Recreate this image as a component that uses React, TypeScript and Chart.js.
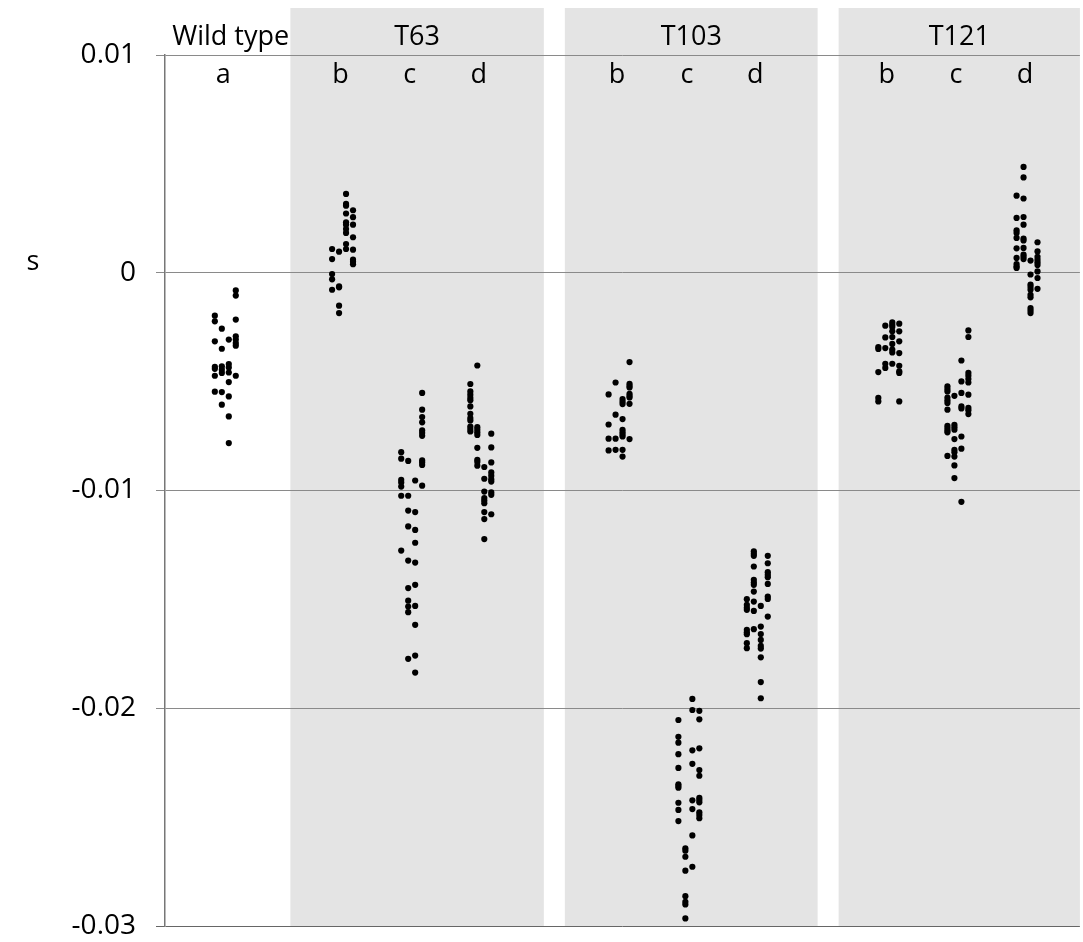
import React, { useEffect, useRef } from "react";
import { Chart, registerables } from "chart.js";

Chart.register(...registerables);

// Group centres on the x axis (one unit ≈ one sub-group spacing)
const groupCenters = [0.89, 2.62, 3.64, 4.66, 6.7, 7.73, 8.74, 10.68, 11.7, 12.72];
const subLabels = ["a", "b", "c", "d", "b", "c", "d", "b", "c", "d"];
const columnStep = 0.103; // spacing of the four dot columns inside a group

// Panels (strains)
const panelNames = ["Wild type", "T63", "T103", "T121"];
const panelStarts = [0, 1.85, 5.9, 9.94];
const panelEnds = [1.85, 5.59, 9.63, 13.5];
const panelShaded = [false, true, true, true];

// y ticks
const yTicks = [0.01, 0, -0.01, -0.02, -0.03];

// Values of s (in units of 0.001), each group split into its four dot columns
const wildA = [
  [-1.97, -2.23, -3.15, -4.32, -4.41, -4.73, -5.46],
  [-2.57, -3.49, -4.3, -4.45, -4.6, -5.48, -6.06],
  [-3.07, -4.19, -4.35, -4.58, -5.02, -5.68, -6.6, -7.82],
  [-0.81, -1.05, -2.15, -2.92, -3.07, -3.23, -3.35, -4.73],
];
const t63B = [
  [1.09, 0.63, -0.06, -0.3, -0.78],
  [0.97, -0.63, -0.67, -1.51, -1.85],
  [3.62, 3.16, 3.08, 2.72, 2.32, 2.21, 2.01, 1.83, 1.32, 1.09],
  [2.87, 2.55, 2.21, 1.63, 1.06, 0.6, 0.5, 0.39],
];
const t63C = [
  [-8.24, -8.54, -9.51, -9.63, -9.82, -10.24, -12.76],
  [-8.64, -10.24, -10.92, -11.65, -13.22, -14.48, -15.06, -15.33, -15.59, -17.73],
  [-9.54, -10.99, -11.81, -12.4, -13.31, -14.33, -15.3, -16.17, -17.58, -18.36],
  [-5.52, -6.29, -6.63, -6.87, -7.24, -7.36, -7.49, -8.62, -8.71, -8.83, -9.78],
];
const t63D = [
  [-5.11, -5.45, -5.6, -5.75, -5.86, -6.14, -6.48, -6.67, -6.78, -7.06, -7.18, -7.29],
  [-4.26, -7.09, -7.21, -7.33, -7.45, -8.04, -8.59, -8.69, -8.86],
  [-8.92, -9.46, -10.05, -10.35, -10.46, -10.58, -10.99, -11.31, -12.23],
  [-7.39, -8.02, -8.71, -9.17, -9.32, -9.48, -9.59, -10.09, -10.2, -11.09],
];
const t103B = [
  [-5.59, -6.97, -7.62, -8.16],
  [-5.04, -6.52, -7.62, -8.13],
  [-5.8, -5.92, -6.03, -6.72, -7.21, -7.32, -7.43, -7.52, -8.13, -8.44],
  [-4.1, -5.1, -5.19, -5.27, -5.56, -5.65, -5.73, -6.02, -7.64],
];
const t103C = [
  [-20.54, -21.31, -21.58, -22.11, -22.74, -23.49, -23.57, -23.65, -24.34, -24.67, -25.18],
  [-26.43, -26.54, -26.82, -27.46, -28.63, -28.89, -29.01, -29.65],
  [-19.57, -20.08, -21.93, -22.55, -24.23, -24.63, -25.84, -27.28],
  [-20.12, -20.51, -21.84, -22.84, -23.1, -24.11, -24.21, -24.32, -24.78, -24.9, -25.05],
];
const t103D = [
  [-14.99, -15.25, -15.38, -15.48, -16.4, -16.51, -16.6, -17.01, -17.24],
  [-12.8, -12.91, -13.0, -13.49, -14.1, -14.23, -14.33, -14.64, -15.1, -15.53, -16.37],
  [-15.3, -16.25, -16.59, -16.86, -17.14, -17.26, -17.66, -18.8, -19.54],
  [-13.0, -13.34, -13.75, -13.87, -13.98, -14.29, -14.87, -14.98, -15.79],
];
const t121B = [
  [-3.41, -3.5, -4.56, -5.75, -5.91],
  [-2.43, -2.97, -3.46, -4.18, -4.37],
  [-2.28, -2.39, -2.49, -2.69, -2.95, -3.27, -3.53, -3.66, -4.18],
  [-2.34, -2.69, -3.15, -3.69, -4.27, -4.53, -4.6, -5.91],
];
const t121C = [
  [-5.22, -5.34, -5.45, -5.73, -5.86, -5.98, -6.29, -7.03, -7.13, -7.24, -7.33, -8.41],
  [-5.65, -6.98, -7.09, -7.21, -7.64, -8.13, -8.24, -8.44, -8.85, -9.43],
  [-4.03, -4.99, -5.52, -6.14, -6.23, -7.52, -8.08, -10.52],
  [-2.65, -2.95, -4.6, -4.73, -4.88, -5.04, -5.6, -6.21, -6.32, -6.49],
];
const t121D = [
  [3.54, 2.52, 1.95, 1.83, 1.6, 1.12, 0.68, 0.4, 0.29, 0.22],
  [4.86, 4.38, 3.41, 2.56, 2.21, 1.57, 1.48, 1.14, 0.83, 0.73, 0.63],
  [0.56, -0.08, -0.54, -0.65, -0.78, -1.01, -1.13, -1.62, -1.73, -1.85],
  [1.4, 0.98, 0.73, 0.6, 0.48, 0.36, 0.06, -0.24, -0.74],
];

const groups = [wildA, t63B, t63C, t63D, t103B, t103C, t103D, t121B, t121C, t121D];

const FONT = '"Open Sans", "DejaVu Sans", sans-serif';

export default function App() {
  const ref = useRef<HTMLCanvasElement | null>(null);

  useEffect(() => {
    if (!ref.current) return;
    const points: { x: number; y: number }[] = [];
    groups.forEach((cols, gi) => {
      cols.forEach((vals, ci) => {
        vals.forEach((v) => {
          points.push({ x: groupCenters[gi] + (ci - 1.5) * columnStep, y: v / 1000 });
        });
      });
    });

    const panelPlugin = {
      id: "panels",
      beforeDraw(chart: any) {
        const { ctx, scales } = chart;
        const x = scales.x;
        const y = scales.y;
        ctx.save();
        ctx.fillStyle = "#e4e4e4";
        const bottom = y.getPixelForValue(-0.03);
        panelStarts.forEach((s, i) => {
          if (!panelShaded[i]) return;
          const x0 = x.getPixelForValue(s);
          const x1 = x.getPixelForValue(panelEnds[i]);
          ctx.fillRect(x0, 8, x1 - x0, bottom - 8);
        });
        ctx.restore();
      },
      afterDraw(chart: any) {
        const { ctx, scales } = chart;
        const x = scales.x;
        ctx.save();
        ctx.fillStyle = "#000";
        ctx.textAlign = "center";
        ctx.textBaseline = "alphabetic";
        ctx.font = `27px ${FONT}`;
        panelNames.forEach((n, i) => {
          const cx = (x.getPixelForValue(panelStarts[i]) + x.getPixelForValue(panelEnds[i])) / 2;
          ctx.fillText(n, i === 0 ? cx + 3 : cx, 45);
        });
        subLabels.forEach((l, i) => {
          ctx.fillText(l, x.getPixelForValue(groupCenters[i]) - 2, 83);
        });
        ctx.fillText("s", 33, 270);
        ctx.restore();
      },
    };

    const chart = new Chart(ref.current, {
      type: "scatter",
      data: {
        datasets: [
          {
            data: points,
            backgroundColor: "#000",
            borderWidth: 0,
            pointRadius: 3.1,
            pointHoverRadius: 3.1,
          },
        ],
      },
      options: {
        responsive: false,
        animation: false,
        layout: { padding: { top: 55, bottom: 16, left: 0, right: 0 } },
        plugins: { legend: { display: false }, tooltip: { enabled: false } },
        scales: {
          x: { type: "linear", min: 0, max: 13.5, display: false },
          y: {
            type: "linear",
            min: -0.03,
            max: 0.01,
            afterBuildTicks(scale: any) {
              scale.ticks = yTicks.map((v) => ({ value: v }));
            },
            afterFit(scale: any) {
              scale.width = 165;
              scale.paddingTop = 0;
              scale.paddingBottom = 0;
            },
            ticks: {
              color: "#000",
              padding: 20,
              font: { family: FONT, size: 28 },
              callback: (v: any) => {
                const r = Math.round(Number(v) * 100) / 100;
                return r === 0 ? "0" : String(r);
              },
            },
            grid: {
              color: (c: any) => (c.tick && Math.abs(c.tick.value + 0.03) < 1e-9 ? "#666" : "#8a8a8a"),
              lineWidth: 1,
              tickLength: 9,
            },
            border: { color: "#777", width: 1.5 },
          },
        },
      },
      plugins: [panelPlugin],
    } as any);
    return () => chart.destroy();
  }, []);

  return (
    <div style={{ position: "absolute", left: 0, top: 0, width: 1083, height: 942 }}>
      <canvas ref={ref} width={1083} height={942} style={{ display: "block" }} />
    </div>
  );
}
